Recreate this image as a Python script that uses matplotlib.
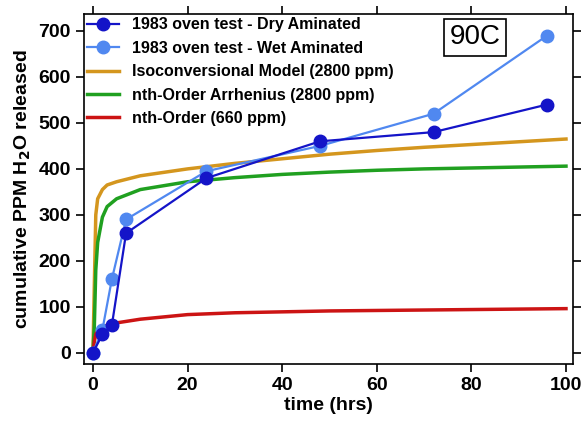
import numpy as np
import matplotlib
matplotlib.use("Agg")
from matplotlib import pyplot as plt

# measured data (oven tests)
t_test = [0, 2, 4, 7, 24, 48, 72, 96]
dry = [0, 40, 60, 260, 380, 460, 480, 540]
wet = [0, 50, 160, 290, 395, 450, 520, 690]

# model curves
t_model = [0, 0.3, 0.6, 1, 2, 3, 5, 10, 20, 30, 40, 50, 60, 70, 80, 90, 100]
iso = [0, 150, 300, 335, 355, 365, 372, 385, 400, 412, 422, 432, 440, 447, 453, 459, 465]
arrh = [0, 60, 180, 240, 295, 318, 335, 355, 372, 381, 388, 393, 397, 400, 402, 404, 406]
nth = [0, 25, 40, 48, 56, 60, 65, 73, 83, 87, 89, 91, 92, 93, 94, 95, 96]

plt.rcParams['font.family'] = ['Liberation Sans', 'DejaVu Sans']
plt.rcParams['font.weight'] = 'bold'

fig = plt.figure(figsize=(5.83, 4.24), dpi=100)
ax = fig.add_axes([0.144, 0.142, 0.839, 0.825])

ax.plot(t_test, dry, '-o', color='#1414C8', lw=1.6, ms=9, label='1983 oven test - Dry Aminated', zorder=5)
ax.plot(t_test, wet, '-o', color='#5088F0', lw=1.6, ms=9, label='1983 oven test - Wet Aminated', zorder=4)
ax.plot(t_model, iso, color='#D4961E', lw=2.5, label='Isoconversional Model (2800 ppm)')
ax.plot(t_model, arrh, color='#20A020', lw=2.5, label='nth-Order Arrhenius (2800 ppm)')
ax.plot(t_model, nth, color='#CC1414', lw=2.5, label='nth-Order (660 ppm)')

ax.set_xlim(-1.9, 101.5)
ax.set_ylim(-24, 737)
ax.set_xticks([0, 20, 40, 60, 80, 100])
ax.set_yticks([0, 100, 200, 300, 400, 500, 600, 700])
ax.tick_params(direction='out', length=6, width=1.2, labelsize=14,
               top=True, right=True, labeltop=False, labelright=False)
for s in ax.spines.values():
    s.set_linewidth(1.2)

ax.set_xlabel('time (hrs)', fontsize=14, fontweight='bold', labelpad=2)
ax.set_ylabel('cumulative PPM H$_\\mathbf{2}$O released', fontsize=14, fontweight='bold', labelpad=4)

ax.legend(loc='upper left', frameon=False, handlelength=2.0,
          borderaxespad=0.1, borderpad=0.1, labelspacing=0.53, handletextpad=0.8,
          prop={'weight': 'bold', 'size': 11.5})

ax.text(0.80, 0.934, '90C', transform=ax.transAxes, fontsize=20, fontweight='normal',
        va='center', ha='center',
        bbox=dict(boxstyle='square,pad=0.2', fc='white', ec='black', lw=1.2))

fig.savefig('out.png', dpi=100)
